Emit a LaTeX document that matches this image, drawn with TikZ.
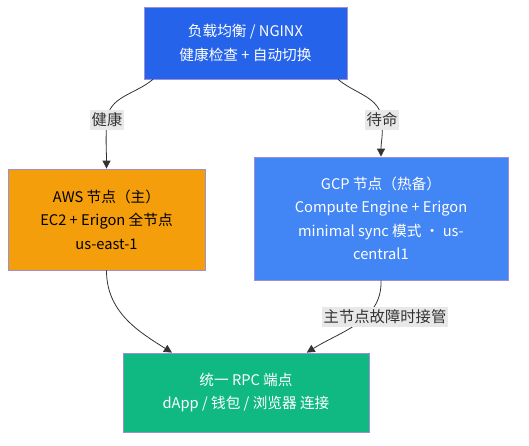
\documentclass[tikz,border=0pt]{standalone}
\usepackage{fontspec}
\setmainfont{Noto Sans CJK SC}
\usetikzlibrary{arrows.meta}
\definecolor{topblue}{HTML}{2563EB}
\definecolor{gcpblue}{HTML}{4285F4}
\definecolor{awsorange}{HTML}{F59E0B}
\definecolor{rpcgreen}{HTML}{10B981}
\definecolor{bordcol}{HTML}{9A8FD8}
\definecolor{edgecol}{HTML}{333333}
\definecolor{lblbg}{HTML}{E8E8E8}
\tikzset{
  box/.style={draw=bordcol, line width=0.6pt, align=center, inner sep=0pt,
    font=\fontsize{11}{17.6}\selectfont},
  edge/.style={draw=edgecol, line width=0.6pt, -{Triangle[length=6pt,width=6pt]}},
  elabel/.style={fill=lblbg, text=edgecol, inner xsep=1pt, inner ysep=2.5pt, font=\fontsize{11.5}{13}\selectfont}
}
\begin{document}
\begin{tikzpicture}[x=0.75pt,y=-0.75pt]
\useasboundingbox (0,0) rectangle (529,446);
\node[box, fill=topblue, text=white, minimum width=152.25pt, minimum height=54pt] (top) at (245.5,43)
  {负载均衡 / NGINX\\健康检查 + 自动切换};
\node[box, fill=awsorange, text=black, minimum width=147.75pt, minimum height=75.75pt] (aws) at (106.5,219.5)
  {AWS 节点（主）\\EC2 + Erigon 全节点\\us-east-1};
\node[box, fill=gcpblue, text=white, minimum width=190.5pt, minimum height=92.25pt] (gcp) at (381,218.5)
  {GCP 节点（热备）\\Compute Engine + Erigon\\minimal sync 模式 · us-\\central1};
\node[box, fill=rpcgreen, text=white, minimum width=184.5pt, minimum height=59.25pt] (rpc) at (246,392.5)
  {统一 RPC 端点\\dApp / 钱包 / 浏览器 连接};
\coordinate (c1) at (107,120);
\coordinate (c2) at (382,120);
\coordinate (c3) at (385,317);
\draw[edge] ([xshift=7]top.south west) to[out=-140,in=85] (c1) to[out=-95,in=90] (aws.north);
\draw[edge] ([xshift=-7]top.south east) to[out=-40,in=95] (c2) to[out=-85,in=90] (gcp.north);
\draw[edge] (aws.south) to[out=-90,in=148] ([xshift=37]rpc.north west);
\draw[edge] (gcp.south) to[out=-88,in=32] ([xshift=-47]rpc.north east);
\node[elabel] (l1) at (c1) {健康};
\node[elabel] (l2) at (c2) {待命};
\node[elabel] (l3) at (c3) {主节点故障时接管};
\end{tikzpicture}
\end{document}
